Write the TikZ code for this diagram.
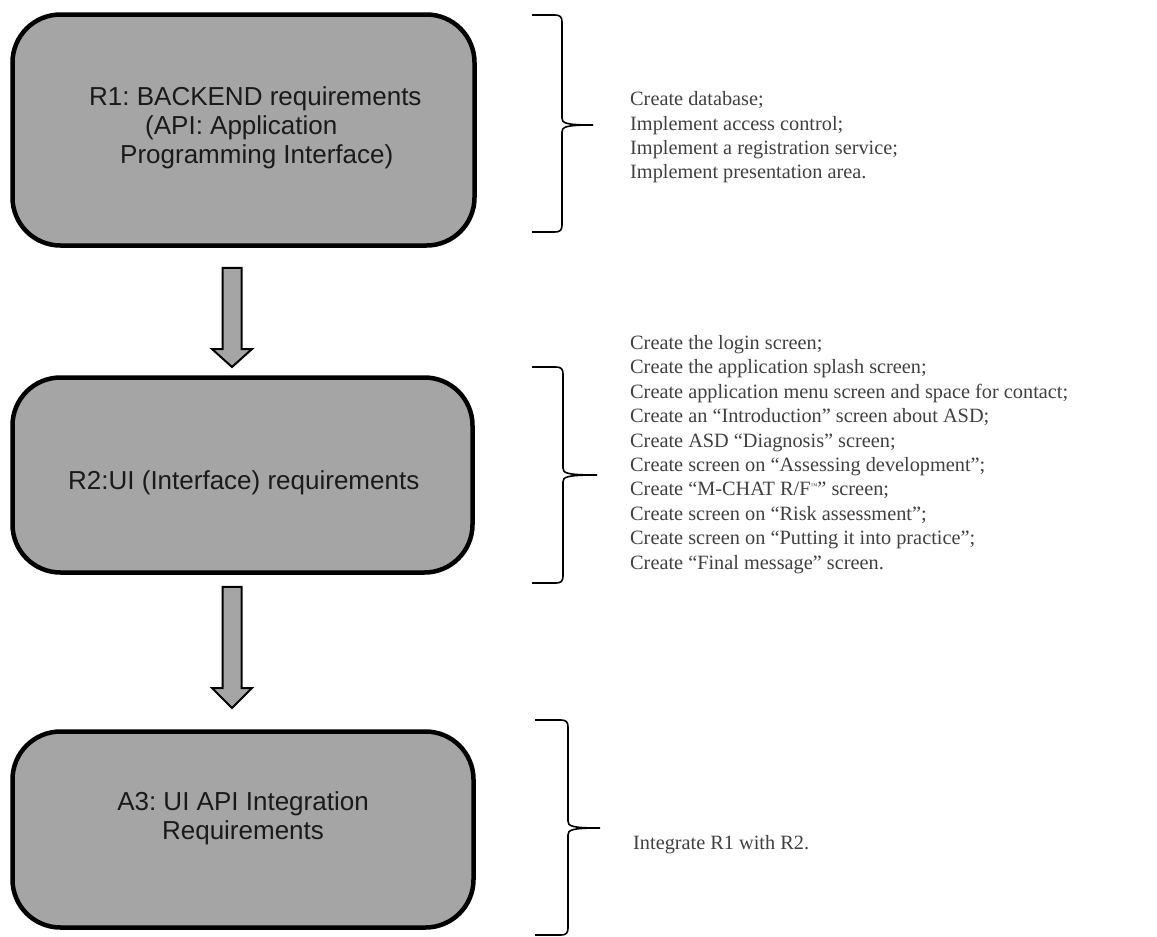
\documentclass[tikz,border=0pt]{standalone}
\usepackage{fontspec}
\setmainfont{Liberation Serif}
\newfontfamily\boxfont{Liberation Sans}
\usetikzlibrary{calc}
\frenchspacing
\definecolor{boxgray}{HTML}{A5A5A5}
\definecolor{listgray}{HTML}{404040}
\definecolor{boxtext}{HTML}{1A1A1A}
\tikzset{
  reqbox/.style={draw=black, line width=4.5pt, fill=boxgray, rounded corners=48pt, inner sep=0pt},
  boxlabel/.style={font=\boxfont\fontsize{26}{29}\selectfont, text=boxtext, inner sep=0pt},
  listtext/.style={font=\fontsize{20.3}{24.4}\selectfont, text=listgray, align=left, inner sep=0pt, anchor=west},
  fatarrow/.style={draw=black, line width=2pt, fill=boxgray, line join=miter},
  bracepath/.style={draw=black, line width=1.6pt}
}
\newcommand\mybrace[6]{% left x, vertical x, top y, mid y, bottom y, tip x
  \draw[bracepath] (#1,#3) -- (#2-7,#3) .. controls (#2-2,#3) and (#2,#3+2) .. (#2,#3+7)
    -- (#2,#4-7) .. controls (#2,#4-2) and (#2+3,#4) .. (#6,#4)
    .. controls (#2+3,#4) and (#2,#4+2) .. (#2,#4+7)
    -- (#2,#5-7) .. controls (#2,#5-2) and (#2-2,#5) .. (#2-7,#5) -- (#1,#5);}
\begin{document}
\begin{tikzpicture}[x=1pt,y=-1pt]
\useasboundingbox (0,0) rectangle (1157,937);

% boxes
\node[reqbox, minimum width=462pt, minimum height=231pt] (r1) at (243.5,130) {};
\node[reqbox, minimum width=460pt, minimum height=195pt] (r2) at (242.5,475) {};
\node[reqbox, minimum width=461pt, minimum height=196pt] (r3) at (243,829.5) {};

% box labels
\node[boxlabel, anchor=west, align=left] (t1) at (89,128)
  {R1: BACKEND requirements\\\hspace*{56pt}(API: Application\\\hspace*{31pt}Programming Interface)};
\node[boxlabel, anchor=west] (t2) at (68,483) {R2:UI (Interface) requirements};
\node[boxlabel, align=center] (t3) at (243,818) {A3: UI API Integration\\Requirements};

% fat arrows
\coordinate (a1t) at ($(r1.south)+(-11.5,20)$);
\coordinate (a1h) at (232,367);
\coordinate (a2t) at ($(r2.south)+(-10.5,12)$);
\coordinate (a2h) at (232,708);
\draw[fatarrow] ($(a1t)+(-9.5,0)$) -- ($(a1h)+(-9.5,-18)$) -- ($(a1h)+(-20,-18)$) -- (a1h)
  -- ($(a1h)+(20,-18)$) -- ($(a1h)+(9.5,-18)$) -- ($(a1t)+(9.5,0)$) -- cycle;
\draw[fatarrow] ($(a2t)+(-9.5,0)$) -- ($(a2h)+(-9.5,-20)$) -- ($(a2h)+(-20,-20)$) -- (a2h)
  -- ($(a2h)+(20,-20)$) -- ($(a2h)+(9.5,-20)$) -- ($(a2t)+(9.5,0)$) -- cycle;

% braces
\mybrace{532}{562}{15}{125}{232}{593}
\mybrace{532}{563}{367}{475}{583}{597}
\mybrace{535}{568}{720}{828}{935}{600}

% lists
\node[listtext] (l1) at (630,137.5) {Create database;\\Implement access control;\\Implement a registration service;\\Implement presentation area.};
\node[listtext] (l2) at (630,454.5) {Create the login screen;\\Create the application splash screen;\\Create application menu screen and space for contact;\\Create an “Introduction” screen about ASD;\\Create ASD “Diagnosis” screen;\\Create screen on “Assessing development”;\\Create “M-CHAT R/F\raisebox{7pt}{\fontsize{7}{7}\selectfont ™}” screen;\\Create screen on “Risk assessment”;\\Create screen on “Putting it into practice”;\\Create “Final message” screen.};
\node[listtext] (l3) at (633,845) {Integrate R1 with R2.};
\end{tikzpicture}
\end{document}
